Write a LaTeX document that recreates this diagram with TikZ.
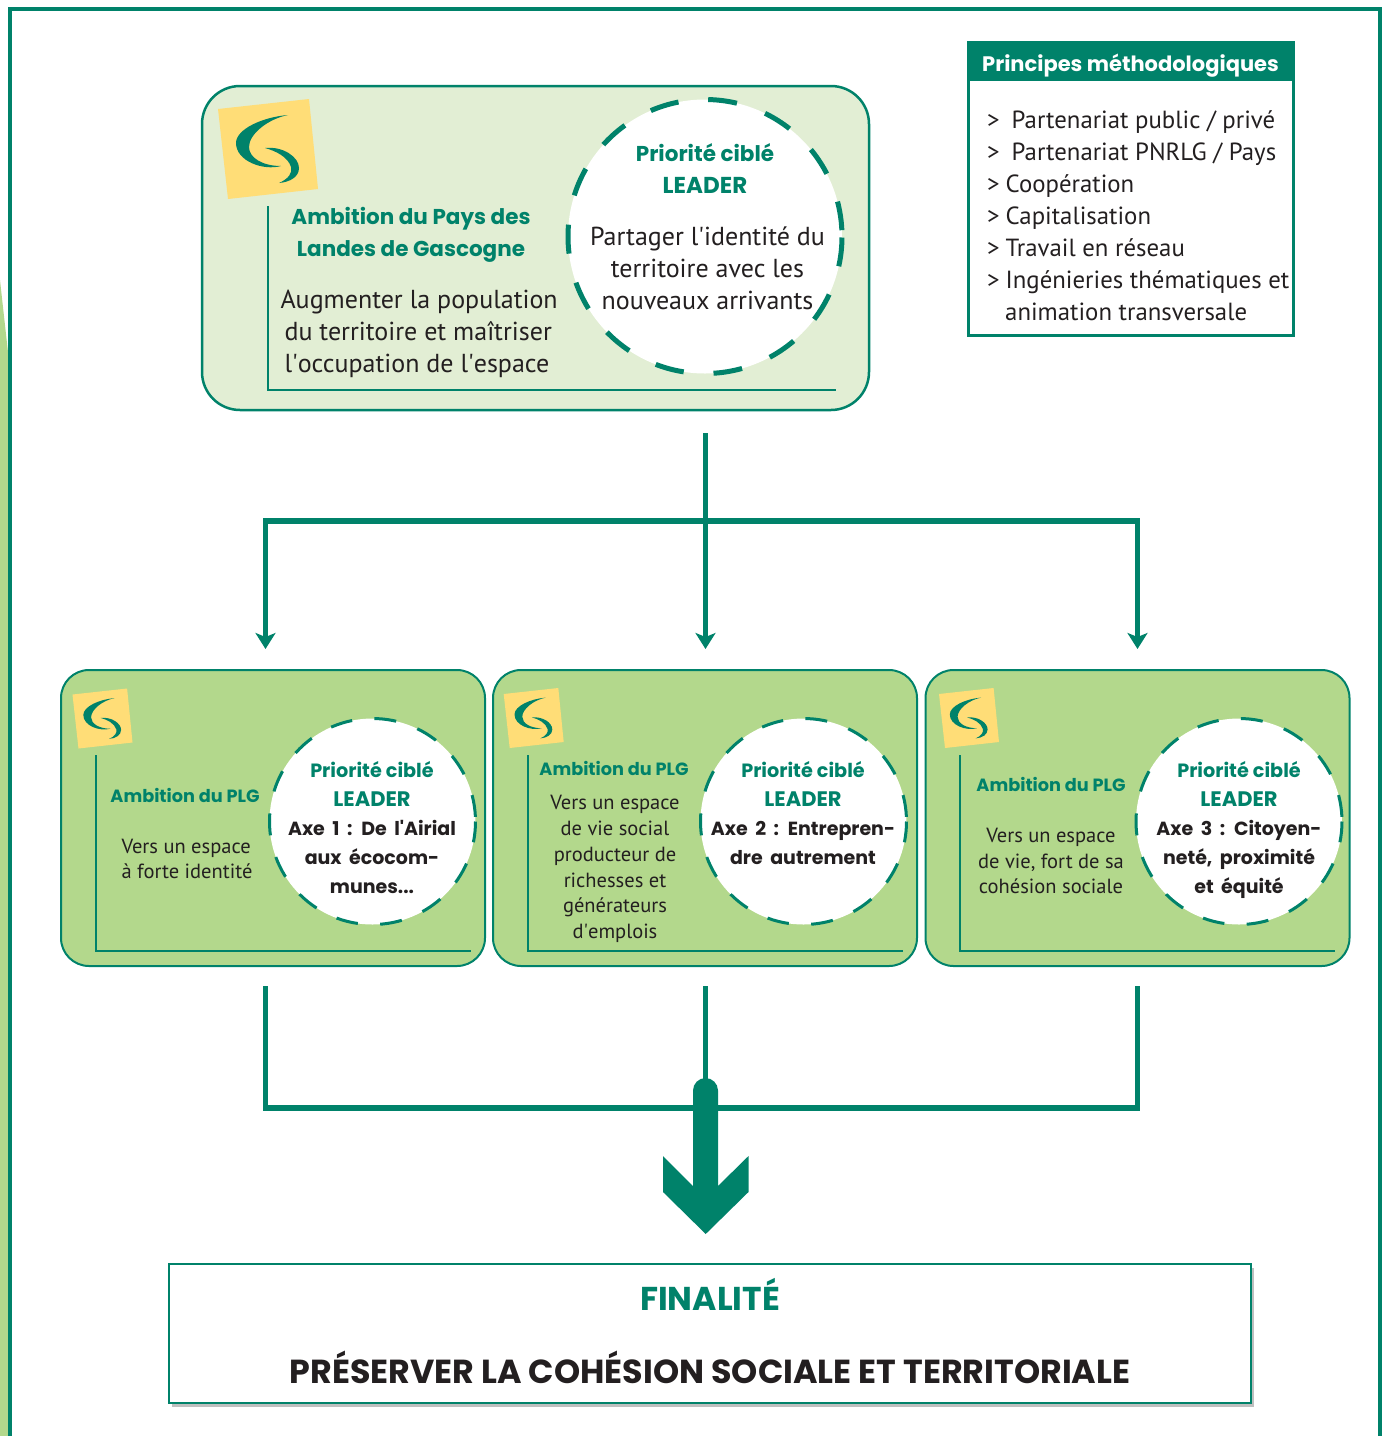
\documentclass[tikz,border=0pt]{standalone}
\usepackage{fontspec}
\setmainfont{PT Sans}
\newfontfamily\headfont{Poppins}
\usetikzlibrary{arrows.meta, shadows}
\definecolor{plggreen}{HTML}{00826A}
\definecolor{plgdark}{HTML}{231F20}
\definecolor{plglight}{HTML}{E2EED4}
\definecolor{plgmid}{HTML}{B3D88C}
\definecolor{plgyellow}{HTML}{FFDD77}
\newcommand{\axespacing}{\spaceskip=7.5pt\relax}
\tikzset{
    logomark/.pic={
        \fill[plgyellow] (-50,-40) -- (41,-50) -- (50,40) -- (-40,50) -- cycle;
        \fill[plggreen] (20,-34) .. controls (-5,-32) and (-32,-20) .. (-32,-6) .. controls (-32,12) and (-5,22) .. (13,17) .. controls (-5,17) and (-19,9) .. (-19,-2) .. controls (-19,-15) and (0,-30) .. cycle;
        \fill[plggreen] (-3,-1) .. controls (15,-3) and (31,8) .. (31,19) .. controls (31,28) and (22,33) .. (11,34) .. controls (20,30) and (25,24) .. (23,18) .. controls (20,8) and (8,2) .. cycle;
    },
    bigpanel/.style={draw=plggreen, line width=2.5pt, fill=plglight, rounded corners=38pt, inner sep=0pt, minimum width=667pt, minimum height=324pt},
    axepanel/.style={draw=plggreen, line width=2pt, fill=plgmid, rounded corners=28pt, inner sep=0pt, minimum width=424pt, minimum height=296pt},
    bigdisc/.style={circle, fill=white, draw=plggreen, line width=5pt, inner sep=0pt, minimum size=274pt, dash pattern=on 29pt off 29.9pt, dash phase=52.6pt},
    axedisc/.style={circle, fill=white, draw=plggreen, line width=3pt, inner sep=0pt, minimum size=206pt, dash pattern=on 22pt off 22.4pt, dash phase=39.7pt},
    bigtitle/.style={align=center, text=plggreen, font=\headfont\bfseries\fontsize{21.5}{32}\selectfont},
    bigbody/.style={align=center, text=plgdark, font=\fontsize{26}{32}\selectfont},
    axetitle/.style={align=center, text=plggreen, font=\headfont\bfseries\fontsize{19.2}{29}\selectfont},
    axehead/.style={align=center, text=plggreen, font=\headfont\bfseries\fontsize{17.7}{29}\selectfont},
    axetext/.style={align=center, text=plgdark, font=\headfont\bfseries\fontsize{19}{29}\selectfont\axespacing},
    axebody/.style={align=center, text=plgdark, font=\fontsize{20.5}{25.8}\selectfont},
    corner/.style={draw=plggreen, line width=2.8pt},
    branch/.style={draw=plggreen, line width=5.2pt},
    branchtip/.style={branch, -{Stealth[length=16pt, width=20pt, inset=4pt]}},
    branchtwotips/.style={branch, {Stealth[length=16pt, width=20pt, inset=4pt]}-{Stealth[length=16pt, width=20pt, inset=4pt]}},
}

\begin{document}
\begin{tikzpicture}[x=1pt, y=-1pt]
    \useasboundingbox (0,0) rectangle (1388,1436);
    % page frame
    \fill[plgmid] (0,280) -- (8,352) -- (8,1436) -- (0,1436) -- cycle;
    \draw[plggreen, line width=4.3pt] (10,1436) -- (10,9) -- (1380,9) -- (1380,1436);

    % ambition du pays
    \node[bigpanel] (ambition) at (535.5,248) {};
    \pic[scale=1] at (268,149) {logomark};
    \draw[corner] (268,206) -- (268,390) -- (836,390);
    \node[bigtitle] (ambitiontitle) at (411,235) {Ambition du Pays des\\Landes de Gascogne};
    \node[bigbody, align=left, anchor=west] (ambitiontext) at (281,334) {\hspace{-4pt}Augmenter la population\\du territoire et maîtriser\\l\textquotesingle occupation de l\textquotesingle espace};
    \node[bigdisc] (prioritydisc) at (705,236.5) {};
    \node[bigtitle] (prioritytitle) at (705,169) {Priorité ciblé\\{\fontsize{23}{32}\selectfont LEADER}};
    \node[bigbody] (prioritytext) at (707.5,268) {Partager l\textquotesingle identité du\\territoire avec les\\nouveaux arrivants};

    % principes
    \node[draw=plggreen, line width=3pt, minimum width=325pt, minimum height=293pt, inner sep=0pt] (principes) at (1130.5,188.5) {};
    \node[fill=plggreen, text=white, minimum width=328pt, minimum height=40pt, inner sep=0pt, text height=26pt, text depth=6pt, font=\headfont\bfseries\fontsize{21}{26}\selectfont] (principestitle) at (1130.5,61) {Principes méthodologiques};
    \node[anchor=north west, align=left, inner sep=0pt, text=plgdark, font=\fontsize{24.8}{32}\selectfont] (principestext) at (987,110) {>\hspace{12pt}Partenariat public / privé\\>\hspace{12pt}Partenariat PNRLG / Pays\\>\hspace{6pt}Coopération\\>\hspace{6pt}Capitalisation\\>\hspace{6pt}Travail en réseau\\>\hspace{6pt}Ingénieries thématiques et\\\hspace{18pt}animation transversale};

    % axe 1
    \node[axepanel] (axeone) at (273,818) {};
    \pic[scale=.6] at (102.5,718.5) {logomark};
    \draw[corner] (96,755) -- (96,951) -- (471,951);
    \node[axehead] (ambitionone) at (185,795) {Ambition du PLG};
    \node[axebody, align=left] (bodyone) at (187,859) {Vers un espace\\à forte identité};
    \node[axedisc] (discone) at (372.5,821.5) {};
    \node[axetitle] (titleone) at (372,783.5) {Priorité ciblé\\{\fontsize{21}{29}\selectfont LEADER}};
    \node[axetext] (textone) at (372,857) {Axe 1 : De l\textquotesingle Airial\\aux écocom-\\munes...};

    % axe 2
    \node[axepanel] (axetwo) at (705,818) {};
    \pic[scale=.6] at (533.7,718) {logomark};
    \draw[corner] (528,755) -- (528,951) -- (903,951);
    \node[axehead] (ambitiontwo) at (614,768) {Ambition du PLG};
    \node[axebody] (bodytwo) at (615,869) {Vers un espace\\de vie social\\producteur de\\richesses et\\générateurs\\d\textquotesingle emplois};
    \node[axedisc] (disctwo) at (803.5,821.5) {};
    \node[axetitle] (titletwo) at (803,783.5) {Priorité ciblé\\{\fontsize{21}{29}\selectfont LEADER}};
    \node[axetext] (texttwo) at (803,842.5) {Axe 2 : Entrepren-\\dre autrement};

    % axe 3
    \node[axepanel] (axethree) at (1137.5,818) {};
    \pic[scale=.6] at (969,718) {logomark};
    \draw[corner] (960,755) -- (960,951) -- (1335,951);
    \node[axehead] (ambitionthree) at (1051,784) {Ambition du PLG};
    \node[axebody] (bodythree) at (1051,861) {Vers un espace\\de vie, fort de sa\\cohésion sociale};
    \node[axedisc] (discthree) at (1239,821.5) {};
    \node[axetitle] (titlethree) at (1239,783.5) {Priorité ciblé\\{\fontsize{21}{29}\selectfont LEADER}};
    \node[axetext] (textthree) at (1239,859) {Axe 3 : Citoyen-\\neté, proximité\\et équité};

    % finalite
    \node[draw=plggreen, line width=2pt, fill=white, minimum width=1082pt, minimum height=139pt, inner sep=0pt, drop shadow={shadow xshift=3pt, shadow yshift=-4pt, fill=black, opacity=.25}] (finalite) at (710,1333.5) {};
    \node[text=plggreen, font=\headfont\bfseries\fontsize{33}{38}\selectfont] (finalitetitle) at (710,1294) {FINALITÉ};
    \node[text=plgdark, font=\headfont\bfseries\fontsize{33.3}{38}\selectfont] (finalitetext) at (710,1367) {PRÉSERVER LA COHÉSION SOCIALE ET TERRITORIALE};

    % connectors from the top panel
    \coordinate (topstart) at (705.5,433);
    \coordinate (topsplit) at (705.5,521);
    \coordinate (splitleft) at (265.5,521);
    \coordinate (splitright) at (1137.5,521);
    \coordinate (endleft) at (265.5,649);
    \coordinate (endmiddle) at (705.5,649);
    \coordinate (endright) at (1137.5,649);
    \draw[branchtip] (topstart) -- (endmiddle);
    \draw[branchtwotips] (endleft) -- (splitleft) -- (topsplit) -- (splitright) -- (endright);

    % connectors to the finalite
    \coordinate (lowleft) at (265.5,986);
    \coordinate (lowmiddle) at (705.5,986);
    \coordinate (lowright) at (1137.5,986);
    \coordinate (joinleft) at (265.5,1108);
    \coordinate (joinmiddle) at (705.5,1108);
    \coordinate (joinright) at (1137.5,1108);
    \draw[branch] (lowleft) -- (joinleft) -- (joinright) -- (lowright);
    \draw[branch] (lowmiddle) -- (joinmiddle);
    \fill[plggreen] (693,1186) -- (693,1090.5) arc[start angle=180, end angle=360, radius=12.5] -- (718,1186) -- (748.5,1156) -- (748.5,1192) -- (705.7,1234) -- (663,1192) -- (663,1156) -- cycle;
\end{tikzpicture}
\end{document}
